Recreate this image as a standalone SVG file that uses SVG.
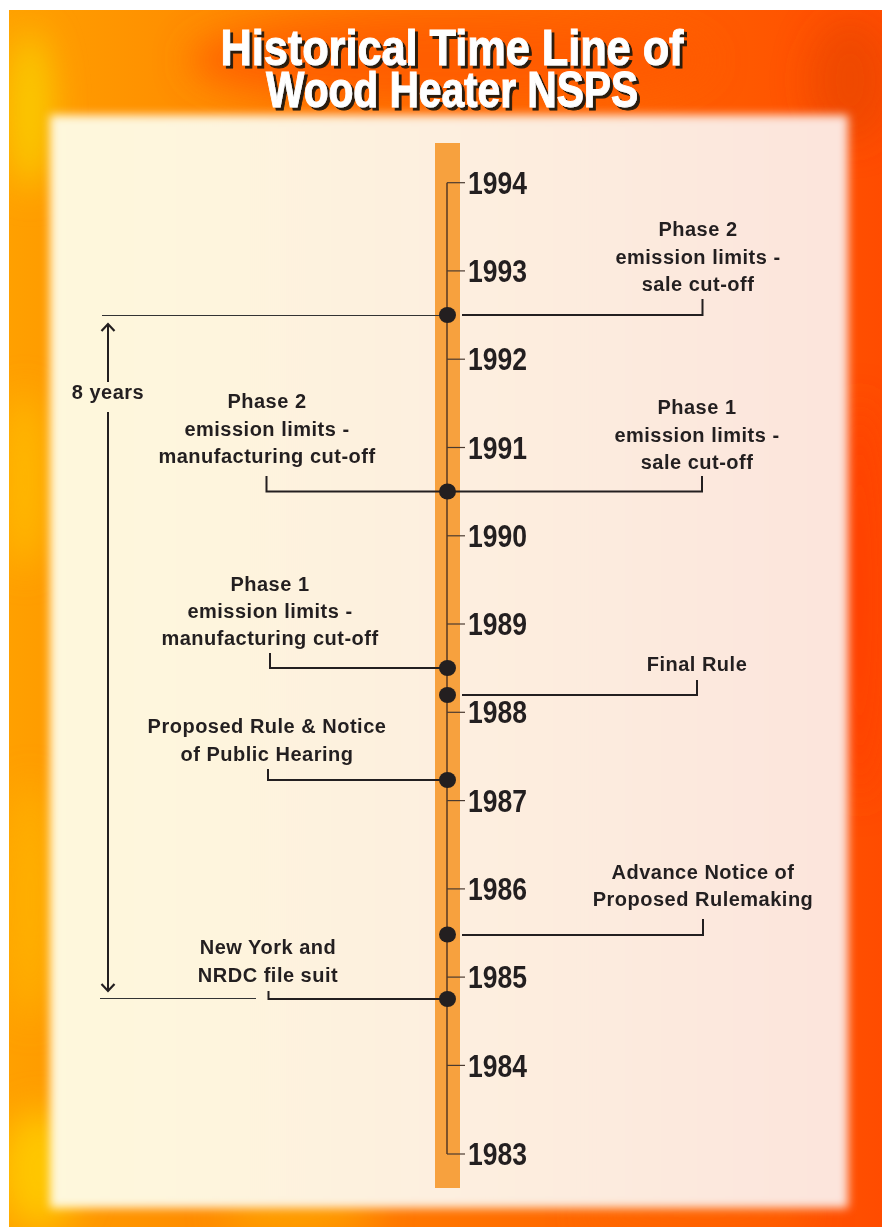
<svg xmlns="http://www.w3.org/2000/svg" width="882" height="1227" viewBox="0 0 882 1227">
<style>
.lbl{font-family:"Liberation Sans",Arial,sans-serif;font-weight:bold;font-size:20px;letter-spacing:0.5px;fill:#231f20;text-anchor:middle}
.yr{font-family:"Liberation Sans Narrow","Liberation Sans",Arial,sans-serif;font-weight:bold;font-size:32px;fill:#231f20}
.title{font-family:"Liberation Sans",Arial,sans-serif;font-weight:bold;font-size:50px;text-anchor:middle;fill:#ffffff;stroke:#ffffff;stroke-width:1}
.conn{fill:none;stroke:#231f20;stroke-width:2}
.thin{fill:none;stroke:#333;stroke-width:1.2}
.tick{stroke:#4a3a30;stroke-width:1.2}
.dot{fill:#231f20}
.chev{fill:none;stroke:#231f20;stroke-width:2.2}
</style>
<defs>
<linearGradient id="fire" x1="0" y1="0" x2="1" y2="0">
<stop offset="0" stop-color="#ffa000"/>
<stop offset="0.45" stop-color="#ff7800"/>
<stop offset="1" stop-color="#ff4c00"/>
</linearGradient>
<linearGradient id="panel" x1="0" y1="0" x2="1" y2="0">
<stop offset="0" stop-color="#fef8dc"/>
<stop offset="0.5" stop-color="#fdefdf"/>
<stop offset="1" stop-color="#fce4dc"/>
</linearGradient>
<filter id="blurBig" x="-50%" y="-50%" width="200%" height="200%"><feGaussianBlur stdDeviation="18"/></filter>
<filter id="blurPanel" x="-5%" y="-5%" width="110%" height="110%"><feGaussianBlur stdDeviation="5"/></filter>
<filter id="shadow" x="-10%" y="-30%" width="120%" height="160%">
<feDropShadow dx="3" dy="3" stdDeviation="0.6" flood-color="#2a1a10" flood-opacity="1"/>
</filter>
<clipPath id="fireClip"><rect x="9" y="10" width="873" height="1217"/></clipPath>
</defs>
<rect width="882" height="1227" fill="#ffffff"/>
<g id="background" clip-path="url(#fireClip)">
<rect x="9" y="10" width="873" height="1217" fill="url(#fire)"/>
<g filter="url(#blurBig)">
<ellipse cx="30" cy="110" rx="20" ry="80" fill="#f6e600" opacity="0.7"/>
<ellipse cx="25" cy="480" rx="18" ry="90" fill="#ffd400" opacity="0.6"/>
<ellipse cx="30" cy="900" rx="22" ry="120" fill="#ffc000" opacity="0.6"/>
<ellipse cx="40" cy="1170" rx="40" ry="60" fill="#ffd800" opacity="0.7"/>
<ellipse cx="300" cy="1215" rx="80" ry="15" fill="#ffc000" opacity="0.7"/>
<ellipse cx="450" cy="60" rx="260" ry="45" fill="#ff5800" opacity="0.8"/>
<ellipse cx="860" cy="600" rx="25" ry="200" fill="#ff4000" opacity="0.8"/>
<ellipse cx="850" cy="80" rx="40" ry="60" fill="#e04000" opacity="0.5"/>
<ellipse cx="700" cy="1215" rx="120" ry="14" fill="#ff6a00" opacity="0.8"/>
</g>
</g>
<rect id="panelbg" x="50" y="115" width="798" height="1093" fill="url(#panel)" filter="url(#blurPanel)"/>
<g id="title" filter="url(#shadow)">
<text class="title" x="452" y="65" textLength="463" lengthAdjust="spacingAndGlyphs">Historical Time Line of</text>
<text class="title" x="452" y="107" textLength="372" lengthAdjust="spacingAndGlyphs">Wood Heater NSPS</text>
</g>
<g id="timeline">
<rect x="435" y="143" width="25" height="1045" fill="#f7a13e"/>
<line x1="447" y1="182.7" x2="447" y2="1154" stroke="#4a3020" stroke-width="1.4"/>
<g class="tick">
<line x1="447" y1="182.7" x2="465" y2="182.7"/>
<line x1="447" y1="270.9" x2="465" y2="270.9"/>
<line x1="447" y1="359.2" x2="465" y2="359.2"/>
<line x1="447" y1="447.5" x2="465" y2="447.5"/>
<line x1="447" y1="535.8" x2="465" y2="535.8"/>
<line x1="447" y1="624" x2="465" y2="624"/>
<line x1="447" y1="712.3" x2="465" y2="712.3"/>
<line x1="447" y1="800.6" x2="465" y2="800.6"/>
<line x1="447" y1="888.9" x2="465" y2="888.9"/>
<line x1="447" y1="977.1" x2="465" y2="977.1"/>
<line x1="447" y1="1065.4" x2="465" y2="1065.4"/>
<line x1="447" y1="1154" x2="465" y2="1154"/>
</g>
<text class="yr" x="468" y="194" textLength="59" lengthAdjust="spacingAndGlyphs">1994</text>
<text class="yr" x="468" y="282" textLength="59" lengthAdjust="spacingAndGlyphs">1993</text>
<text class="yr" x="468" y="370" textLength="59" lengthAdjust="spacingAndGlyphs">1992</text>
<text class="yr" x="468" y="459" textLength="59" lengthAdjust="spacingAndGlyphs">1991</text>
<text class="yr" x="468" y="547" textLength="59" lengthAdjust="spacingAndGlyphs">1990</text>
<text class="yr" x="468" y="635" textLength="59" lengthAdjust="spacingAndGlyphs">1989</text>
<text class="yr" x="468" y="723" textLength="59" lengthAdjust="spacingAndGlyphs">1988</text>
<text class="yr" x="468" y="812" textLength="59" lengthAdjust="spacingAndGlyphs">1987</text>
<text class="yr" x="468" y="900" textLength="59" lengthAdjust="spacingAndGlyphs">1986</text>
<text class="yr" x="468" y="988" textLength="59" lengthAdjust="spacingAndGlyphs">1985</text>
<text class="yr" x="468" y="1077" textLength="59" lengthAdjust="spacingAndGlyphs">1984</text>
<text class="yr" x="468" y="1165" textLength="59" lengthAdjust="spacingAndGlyphs">1983</text>
</g>
<g id="connectors">
<line class="thin" x1="102" y1="315.5" x2="447" y2="315.5"/>
<line class="thin" x1="100" y1="998.5" x2="256" y2="998.5"/>
<path class="conn" d="M462,315 H702.5 V299"/>
<path class="conn" d="M266.5,476 V491.5 H702 V476"/>
<path class="conn" d="M270,653 V668 H447"/>
<path class="conn" d="M462,695 H697 V680"/>
<path class="conn" d="M268,769 V780 H447"/>
<path class="conn" d="M462,935 H703 V919"/>
<path class="conn" d="M268.5,991 V999 H447"/>
<line class="conn" x1="108" y1="324" x2="108" y2="382"/>
<line class="conn" x1="108" y1="412" x2="108" y2="991"/>
<path class="chev" d="M101.5,331 L108,324 L114.5,331"/>
<path class="chev" d="M101.5,984 L108,991 L114.5,984"/>
</g>
<g id="dots">
<ellipse class="dot" cx="447.5" cy="315" rx="8.5" ry="8"/>
<ellipse class="dot" cx="447.5" cy="491.5" rx="8.5" ry="8"/>
<ellipse class="dot" cx="447.5" cy="668" rx="8.5" ry="8"/>
<ellipse class="dot" cx="447.5" cy="695" rx="8.5" ry="8"/>
<ellipse class="dot" cx="447.5" cy="780" rx="8.5" ry="8"/>
<ellipse class="dot" cx="447.5" cy="934.5" rx="8.5" ry="8"/>
<ellipse class="dot" cx="447.5" cy="999" rx="8.5" ry="8"/>
</g>
<g id="n-8years"><text class="lbl" x="108" y="399">8 years</text></g>
<g id="n-phase2-sale"><text class="lbl" x="698" y="236">Phase 2</text><text class="lbl" x="698" y="263.5">emission limits -</text><text class="lbl" x="698" y="291">sale cut-off</text></g>
<g id="n-phase2-manuf"><text class="lbl" x="267" y="408">Phase 2</text><text class="lbl" x="267" y="435.5">emission limits -</text><text class="lbl" x="267" y="463">manufacturing cut-off</text></g>
<g id="n-phase1-sale"><text class="lbl" x="697" y="414">Phase 1</text><text class="lbl" x="697" y="441.5">emission limits -</text><text class="lbl" x="697" y="469">sale cut-off</text></g>
<g id="n-phase1-manuf"><text class="lbl" x="270" y="591">Phase 1</text><text class="lbl" x="270" y="618">emission limits -</text><text class="lbl" x="270" y="645">manufacturing cut-off</text></g>
<g id="n-final"><text class="lbl" x="697" y="671">Final Rule</text></g>
<g id="n-proposed"><text class="lbl" x="267" y="733">Proposed Rule &amp; Notice</text><text class="lbl" x="267" y="761">of Public Hearing</text></g>
<g id="n-advance"><text class="lbl" x="703" y="879">Advance Notice of</text><text class="lbl" x="703" y="906">Proposed Rulemaking</text></g>
<g id="n-ny"><text class="lbl" x="268" y="954">New York and</text><text class="lbl" x="268" y="982">NRDC file suit</text></g>
</svg>
